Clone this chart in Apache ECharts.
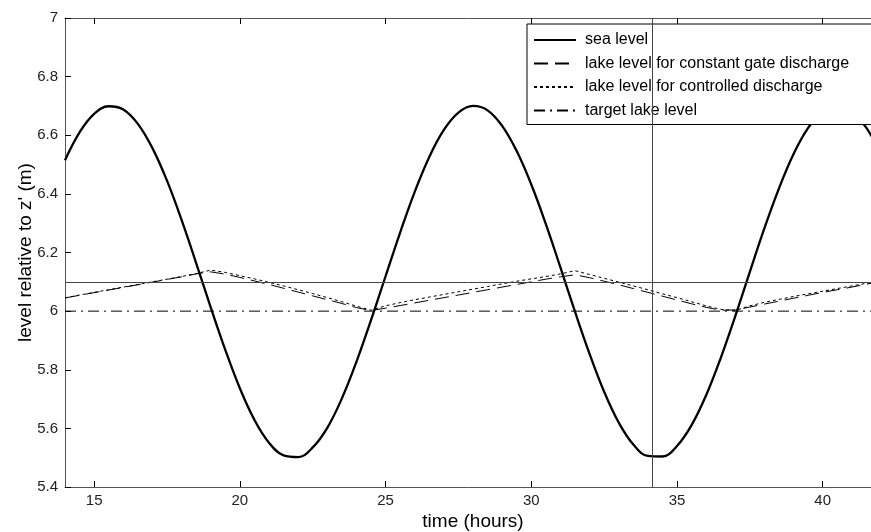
<!DOCTYPE html>
<html>
<head>
<meta charset="utf-8">
<script src="https://cdn.jsdelivr.net/npm/echarts@6/dist/echarts.min.js"></script>
<style>
	html,body{margin:0;padding:0;background:#fff;}
	#main{width:871px;height:532px;}
</style>
</head>
<body>
<div id="main"></div>
<script type="text/javascript">
	// time (hours)
	var times = [14,14.5,15,15.5,16,16.5,17,17.5,18,18.5,19,
		19.5,20,20.5,21,21.5,22,22.5,23,23.5,24,24.5,
		25,25.5,26,26.5,27,27.5,28,28.5,29,29.5,30,
		30.5,31,31.5,32,32.5,33,33.5,34,34.5,35,35.5,
		36,36.5,37,37.5,38,38.5,39,39.5,40,40.5,41,
		41.5,42];
	var seaLevel = [6.515,6.610,6.673,6.699,6.688,6.639,6.556,6.445,6.311,6.164,6.013,
		5.868,5.737,5.629,5.551,5.508,5.502,5.535,5.602,5.702,5.827,5.969,
		6.119,6.268,6.407,6.526,6.618,6.677,6.700,6.685,6.632,6.546,6.432,
		6.297,6.149,5.998,5.854,5.725,5.620,5.545,5.506,5.504,5.540,5.611,
		5.713,5.840,5.983,6.134,6.283,6.419,6.536,6.625,6.681,6.700,6.681,
		6.625,6.536];
	var constLake = [6.045,6.054,6.063,6.072,6.081,6.090,6.099,6.108,6.117,6.127,6.134,
		6.126,6.115,6.103,6.091,6.078,6.065,6.052,6.039,6.026,6.012,6.002,
		6.010,6.019,6.028,6.037,6.046,6.055,6.064,6.073,6.082,6.091,6.100,
		6.109,6.117,6.124,6.114,6.102,6.090,6.077,6.064,6.051,6.038,6.025,
		6.013,6.003,6.004,6.014,6.024,6.034,6.044,6.054,6.064,6.073,6.082,
		6.092,6.101];
	var ctrlLake = [6.045,6.055,6.064,6.073,6.082,6.091,6.100,6.109,6.118,6.128,6.140,
		6.132,6.121,6.110,6.098,6.086,6.073,6.060,6.046,6.032,6.017,6.003,
		6.018,6.029,6.039,6.048,6.057,6.066,6.075,6.084,6.093,6.102,6.110,
		6.118,6.127,6.138,6.125,6.112,6.099,6.086,6.073,6.059,6.046,6.032,
		6.018,6.006,6.002,6.018,6.030,6.040,6.050,6.059,6.068,6.077,6.086,
		6.095,6.103];
	var targetTimes = [14, 42];
	var targetLevel = [6, 6];
	var xTicks = [15, 20, 25, 30, 35, 40];
	var refLevel = 6.1;      // thin horizontal line
	var troughTime = 34.15;  // thin vertical line

	function pairs(xs, ys){
		var out = [];
		for (var i = 0; i < xs.length; i++) out.push([xs[i], ys[i]]);
		return out;
	}

	var font = 'Liberation Sans, Arial, sans-serif';
	var myChart = echarts.init(document.getElementById('main'));
	option = {
		animation: false,
		backgroundColor: '#fff',
		grid: {left: 65, top: 18, width: 816, height: 469, outerBoundsMode: 'none', containLabel: false},
		legend: {
			orient: 'vertical',
			left: 527,
			top: 24,
			padding: [8, 40, 6, 6],
			itemWidth: 42,
			itemHeight: 14,
			itemGap: 7.5,
			backgroundColor: '#fff',
			borderColor: '#000',
			borderWidth: 1,
			borderRadius: 0,
			itemStyle: {opacity: 0},
			textStyle: {fontFamily: font, fontSize: 16, color: '#000', padding: [0, 0, 0, 4]},
			data: ['sea level', 'lake level for constant gate discharge', 'lake level for controlled discharge', 'target lake level']
		},
		xAxis: [{
			type: 'value',
			min: 14,
			max: 42,
			name: 'time (hours)',
			nameLocation: 'middle',
			nameGap: 25,
			nameMoveOverlap: false,
			nameTextStyle: {fontFamily: font, fontSize: 19, color: '#000'},
			axisLine: {lineStyle: {color: '#555', width: 1}},
			axisTick: {inside: true, length: 6, customValues: xTicks, lineStyle: {color: '#000'}},
			axisLabel: {fontFamily: font, fontSize: 15, color: '#222', margin: 6, customValues: xTicks},
			splitLine: {show: false}
		},{
			type: 'value',
			position: 'top',
			min: 14,
			max: 42,
			axisLine: {show: true, onZero: false, lineStyle: {color: '#555', width: 1}},
			axisTick: {inside: true, length: 6, customValues: xTicks, lineStyle: {color: '#000'}},
			axisLabel: {show: false},
			splitLine: {show: false}
		}],
		yAxis: [{
			type: 'value',
			min: 5.4,
			max: 7,
			interval: 0.2,
			name: "level relative to z' (m)",
			nameLocation: 'middle',
			nameGap: 30,
			nameMoveOverlap: false,
			nameTextStyle: {fontFamily: font, fontSize: 19, color: '#000'},
			axisLine: {show: true, lineStyle: {color: '#555', width: 1}},
			axisTick: {show: true, inside: true, length: 6, lineStyle: {color: '#000'}},
			axisLabel: {fontFamily: font, fontSize: 15, color: '#222', margin: 7},
			splitLine: {show: false}
		}],
		series: [{
			name: 'sea level',
			type: 'line',
			data: pairs(times, seaLevel),
			symbol: 'none',
			smooth: 0.4,
			lineStyle: {color: '#000', width: 2.3},
			itemStyle: {color: '#000'},
			z: 3
		},{
			name: 'lake level for constant gate discharge',
			type: 'line',
			data: pairs(times, constLake),
			symbol: 'none',
			lineStyle: {color: '#000', width: 1, type: [14, 7]},
			itemStyle: {color: '#000'}
		},{
			name: 'lake level for controlled discharge',
			type: 'line',
			data: pairs(times, ctrlLake),
			symbol: 'none',
			lineStyle: {color: '#000', width: 1, type: [3, 3]},
			itemStyle: {color: '#000'}
		},{
			name: 'target lake level',
			type: 'line',
			data: pairs(targetTimes, targetLevel),
			symbol: 'none',
			lineStyle: {color: '#000', width: 1, type: [11, 5, 2, 5]},
			itemStyle: {color: '#000'},
			markLine: {
				silent: true,
				symbol: 'none',
				label: {show: false},
				lineStyle: {color: '#444', width: 1, type: 'solid'},
				data: [{yAxis: refLevel}, {xAxis: troughTime}]
			}
		}]
	};
	myChart.setOption(option);
</script>
</body>
</html>
